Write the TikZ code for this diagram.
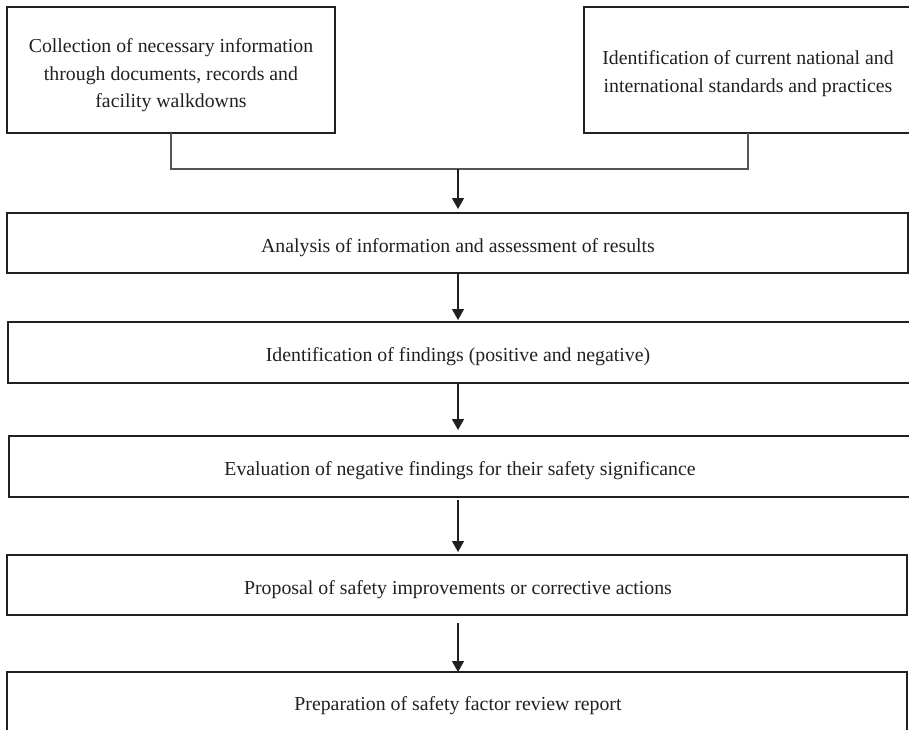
\documentclass[tikz,border=0pt]{standalone}
\usepackage{fontspec}
\setmainfont{Liberation Serif}
\usetikzlibrary{arrows.meta}
\definecolor{ink}{HTML}{231F20}
\definecolor{conngray}{HTML}{555555}
\begin{document}
\begin{tikzpicture}[x=1pt,y=-1pt,
  box/.style={draw=ink,line width=2.8pt,rectangle,inner sep=0pt,outer sep=0pt},
  lbl/.style={text=ink,align=center,inner sep=0pt,font=\fontsize{19.8}{27.5}\selectfont},
  conn/.style={draw=conngray,line width=1.8pt},
  arr/.style={draw=ink,line width=1.3pt,-{Triangle[width=12pt,length=11pt]}}
]
\useasboundingbox (0,0) rectangle (909,729);
\clip (0,0) rectangle (909,729);

% boxes
\node[box,minimum width=328pt,minimum height=126pt] (b1) at (171,70) {};
\node[box,minimum width=340pt,minimum height=126pt] (b2) at (754,70) {};
\node[box,minimum width=901pt,minimum height=60pt] (b3) at (457.5,243) {};
\node[box,minimum width=912pt,minimum height=61pt] (b4) at (464,352.5) {};
\node[box,minimum width=911pt,minimum height=61pt] (b5) at (464.5,466.5) {};
\node[box,minimum width=900pt,minimum height=60pt] (b6) at (457,585) {};
\node[box,minimum width=900pt,minimum height=60pt] (b7) at (457,702) {};

% texts
\node[lbl] (t1) at (171,75.3) {Collection of necessary information\\through documents, records and\\facility walkdowns};
\node[lbl] (t2) at (748,73.4) {Identification of current national and\\international standards and practices};
\node[lbl] (t3) at (458,247.3) {Analysis of information and assessment of results};
\node[lbl] (t4) at (458,356.4) {Identification of findings (positive and negative)};
\node[lbl] (t5) at (460,471) {Evaluation of negative findings for their safety significance};
\node[lbl] (t6) at (458,589.5) {Proposal of safety improvements or corrective actions};
\node[lbl] (t7) at (458,705.3) {Preparation of safety factor review report};

% connectors
\coordinate (j) at (458,169);
\coordinate (ax) at (458,0);
\coordinate (rx) at (748,0);
\draw[conn] (b1.south) |- (j) -| (b2.south -| rx);
\draw[arr,shorten >=4pt] (j) -- (b3.north -| j);
\draw[arr,shorten >=2pt] (b3.south -| ax) -- (b4.north -| ax);
\draw[arr,shorten >=6pt] (b4.south -| ax) -- (b5.north -| ax);
\draw[arr,shorten <=3pt,shorten >=3pt] (b5.south -| ax) -- (b6.north -| ax);
\draw[arr,shorten <=8pt] (b6.south -| ax) -- (b7.north -| ax);
\end{tikzpicture}
\end{document}
